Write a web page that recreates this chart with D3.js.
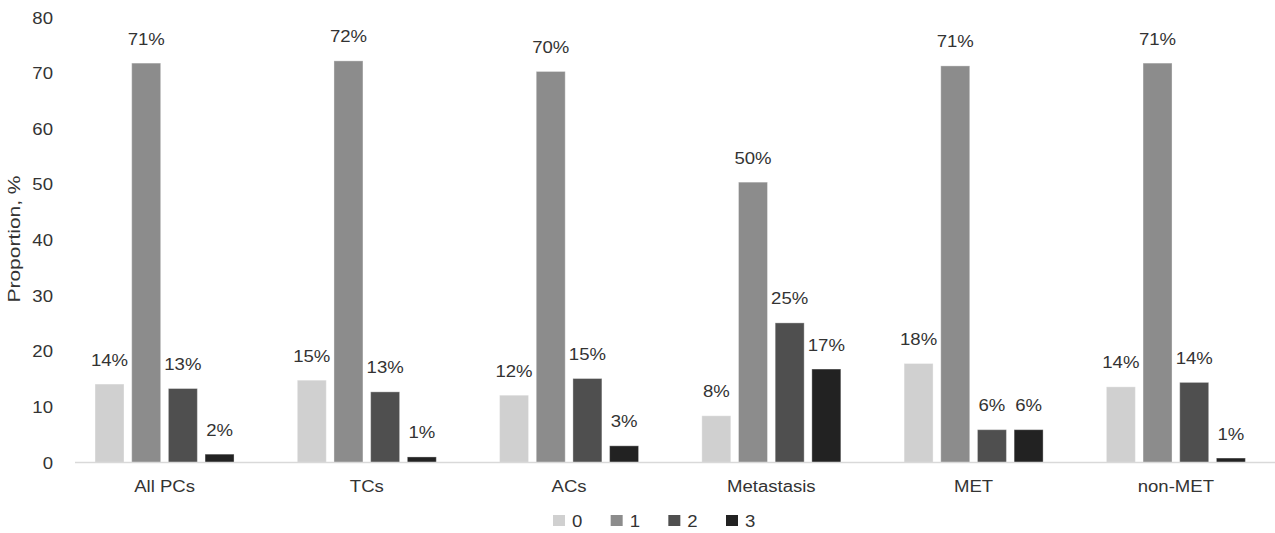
<!DOCTYPE html>
<html>
<head>
<meta charset="utf-8">
<script src="https://cdn.jsdelivr.net/npm/d3@7"></script>
<style>
  html, body { margin: 0; padding: 0; background: #fff; }
  svg { display: block; font-family: "Liberation Sans", Arial, Helvetica, sans-serif; }
</style>
</head>
<body>
<svg id="chart" width="1275" height="533"></svg>
<script>
// ---- data ----
const categories = ["All PCs", "TCs", "ACs", "Metastasis", "MET", "non-MET"];
const seriesNames = ["0", "1", "2", "3"];
const series0 = [14.1, 14.8, 12.1, 8.4, 17.8, 13.6];
const series1 = [71.8, 72.2, 70.3, 50.4, 71.3, 71.8];
const series2 = [13.3, 12.7, 15.1, 25.1, 5.9, 14.4];
const series3 = [1.5, 1.0, 3.0, 16.8, 5.9, 0.8];
const labels0 = ["14%", "15%", "12%", "8%", "18%", "14%"];
const labels1 = ["71%", "72%", "70%", "50%", "71%", "71%"];
const labels2 = ["13%", "13%", "15%", "25%", "6%", "14%"];
const labels3 = ["2%", "1%", "3%", "17%", "6%", "1%"];
const yTicks = [0, 10, 20, 30, 40, 50, 60, 70, 80];
const colors = ["#d0d0d0", "#8c8c8c", "#4f4f4f", "#222222"];

const seriesValues = [series0, series1, series2, series3];
const seriesLabels = [labels0, labels1, labels2, labels3];

// ---- layout ----
const svg = d3.select("#chart");
const SX = 1.16; // horizontal text stretch of the reference
const textColor = "#333";

const y = d3.scaleLinear().domain([0, 80]).range([462.5, 17.5]);
const x = d3.scaleBand().domain(categories).range([63.4, 1277]).paddingInner(0).paddingOuter(0);
const xs = d3.scaleBand().domain(seriesNames).range([-69.5, 69.5]).paddingInner(0.21).paddingOuter(0);

// y tick labels (no axis line)
const yAxis = d3.axisLeft(y).tickValues(yTicks).tickSize(0).tickPadding(0);
const gy = svg.append("g").attr("transform", "translate(53,0)").call(yAxis);
gy.select(".domain").remove();
gy.selectAll(".tick text")
  .attr("x", 0).attr("dy", "0.35em")
  .attr("font-size", 16).attr("font-family", "Liberation Sans, Arial, sans-serif")
  .attr("fill", textColor)
  .attr("transform", `scale(${SX},1)`);

// y title
svg.append("text")
  .attr("transform", "translate(20,239) rotate(-90)")
  .attr("text-anchor", "middle")
  .attr("font-size", 16)
  .attr("fill", textColor)
  .attr("textLength", 127)
  .attr("lengthAdjust", "spacingAndGlyphs")
  .text("Proportion, %");

// bars
const rows = [];
categories.forEach((c, ci) => {
  seriesNames.forEach((s, si) => {
    rows.push({ cat: c, ser: s, si: si, v: seriesValues[si][ci], lab: seriesLabels[si][ci] });
  });
});

const groups = svg.append("g");
groups.selectAll("rect").data(rows).join("rect")
  .attr("x", d => x(d.cat) + x.bandwidth() / 2 + xs(d.ser))
  .attr("y", d => y(d.v))
  .attr("width", xs.bandwidth())
  .attr("height", d => y(0) - y(d.v))
  .attr("fill", d => colors[d.si])
  .attr("stroke", "#ffffff")
  .attr("stroke-opacity", 0.35)
  .attr("stroke-width", 1);

// data labels
groups.selectAll("text.lab").data(rows).join("text")
  .attr("class", "lab")
  .attr("transform", d => `translate(${x(d.cat) + x.bandwidth() / 2 + xs(d.ser) + xs.bandwidth() / 2},${y(d.v) - 18.5}) scale(${SX},1)`)
  .attr("text-anchor", "middle")
  .attr("font-size", 16)
  .attr("fill", textColor)
  .text(d => d.lab);

// x axis line
const xAxis = d3.axisBottom(x).tickSize(0).tickPadding(0);
const gx = svg.append("g").attr("transform", `translate(0,${y(0)})`).call(xAxis);
gx.select(".domain").remove();
svg.append("line")
  .attr("x1", 75).attr("x2", 1275)
  .attr("y1", y(0)).attr("y2", y(0))
  .attr("stroke", "#d9d9d9").attr("stroke-width", 1.5);
gx.selectAll(".tick text")
  .attr("y", 0).attr("dy", 0)
  .attr("font-size", 16).attr("font-family", "Liberation Sans, Arial, sans-serif")
  .attr("fill", textColor)
  .attr("transform", `translate(0,29) scale(${SX},1)`);

// legend
const legendX = d3.scalePoint().domain(seriesNames).range([553, 726]);
const leg = svg.append("g").selectAll("g").data(seriesNames).join("g")
  .attr("transform", d => `translate(${legendX(d)},515)`);
leg.append("rect")
  .attr("width", 12).attr("height", 11)
  .attr("fill", (d, i) => colors[i]);
leg.append("text")
  .attr("transform", `translate(19,11.5) scale(${SX},1)`)
  .attr("font-size", 16)
  .attr("fill", textColor)
  .text(d => d);
</script>
</body>
</html>
